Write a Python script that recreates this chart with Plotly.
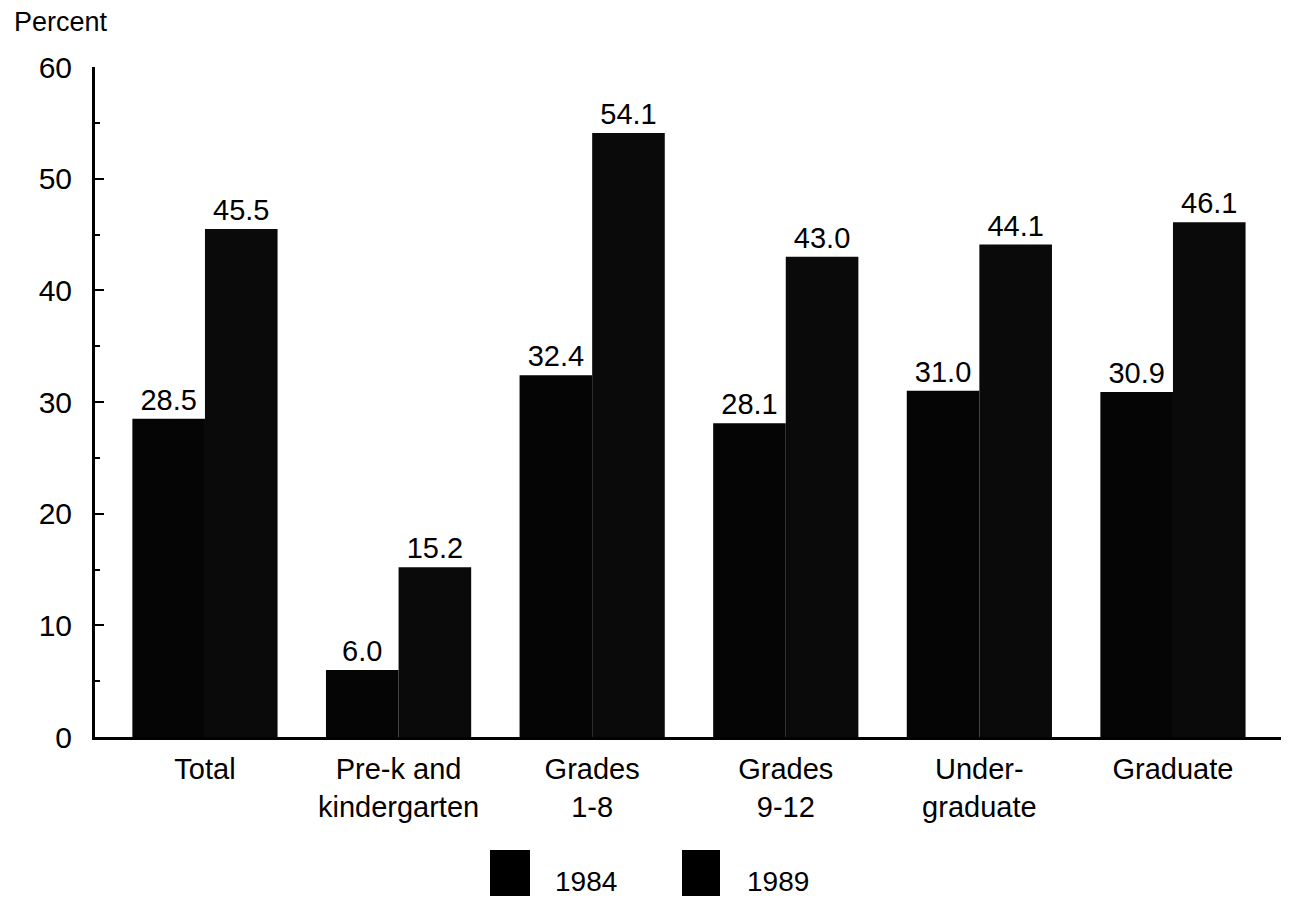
import plotly.graph_objects as go

categories = ["Total", "Pre-k and<br>kindergarten", "Grades<br>1-8", "Grades<br>9-12", "Under-<br>graduate", "Graduate"]
years = ["1984", "1989"]
values_1984 = [28.5, 6.0, 32.4, 28.1, 31.0, 30.9]
values_1989 = [45.5, 15.2, 54.1, 43.0, 44.1, 46.1]
y_ticks = [0, 10, 20, 30, 40, 50, 60]

FONT = "Liberation Sans, Arial, Helvetica, sans-serif"
x_idx = list(range(len(categories)))

# page offset (body margin) and target plot-area pixels
OFF = 8
PL, PR, PT, PB = 95, 1281, 67, 737
W, H = 1289 - 2 * OFF, 904 - 2 * OFF


def px(x):
    return (x - PL) / (PR - PL)


def py(y):
    return (PB - y) / (PB - PT)


fig = go.Figure()
for name, vals, col in [(years[0], values_1984, "#050505"), (years[1], values_1989, "#0a0a0a")]:
    fig.add_trace(go.Bar(
        x=x_idx, y=vals, name=name, marker=dict(color=col, line=dict(width=0)),
        text=[f"{v:.1f}" for v in vals], textposition="outside",
        textfont=dict(family=FONT, size=29, color="black"), cliponaxis=False,
    ))

fig.update_layout(
    barmode="group", bargap=0.25, bargroupgap=0,
    width=W, height=H,
    margin=dict(l=PL - OFF, r=W - (PR - OFF), t=PT - OFF, b=H - (PB - OFF), autoexpand=False),
    paper_bgcolor="white", plot_bgcolor="white",
    showlegend=False,
    font=dict(family=FONT, size=29, color="black"),
    xaxis=dict(
        tickmode="array", tickvals=x_idx, ticktext=categories,
        range=[-0.568, 5.558], showline=True, linecolor="black", linewidth=3,
        ticks="", showgrid=False, zeroline=False, ticklabelstandoff=4,
        tickfont=dict(family=FONT, size=29, color="black"),
    ),
    yaxis=dict(
        range=[0, 60], tickvals=y_ticks, showline=True, linecolor="black", linewidth=3,
        ticks="inside", ticklen=9, tickwidth=1.5, tickcolor="black",
        minor=dict(dtick=5, ticks="inside", ticklen=5, tickwidth=1.5, tickcolor="black"),
        showgrid=False, zeroline=False, ticklabelstandoff=14,
        tickfont=dict(family=FONT, size=30, color="black"),
    ),
)

fig.add_annotation(text="Percent", xref="paper", yref="paper", x=px(12), y=py(22),
                   xanchor="left", yanchor="middle", showarrow=False,
                   font=dict(family=FONT, size=27, color="black"))

# legend drawn as shapes + labels
legend_items = [(490, 530, years[0], 553), (682, 720, years[1], 745)]
for x0, x1, lab, tx in legend_items:
    fig.add_shape(type="rect", xref="paper", yref="paper",
                  x0=px(x0), x1=px(x1), y0=py(902), y1=py(850),
                  fillcolor="black", line=dict(width=0))
    fig.add_annotation(text=lab, xref="paper", yref="paper",
                       x=px(tx), y=py(881),
                       xanchor="left", yanchor="middle", showarrow=False,
                       font=dict(family=FONT, size=28, color="black"))

fig.write_html("out.html")
